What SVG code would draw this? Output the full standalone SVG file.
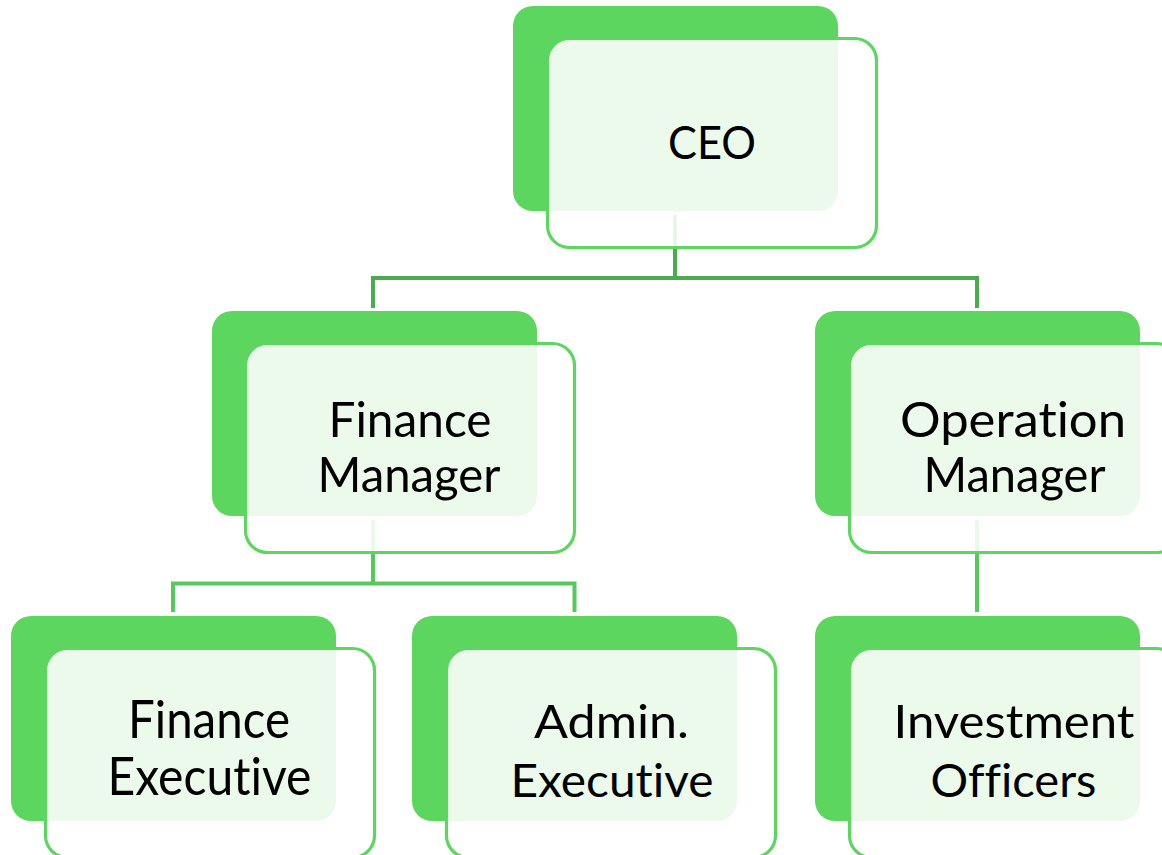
<svg xmlns="http://www.w3.org/2000/svg" width="1162" height="855" viewBox="0 0 1162 855">
  <defs>
    <style>
      .back { fill: #5cd65f; }
      .front { fill: #ffffff; fill-opacity: 0.88; stroke: #5cd65f; stroke-width: 3.2; }
      .link { fill: none; stroke-width: 4; stroke-linejoin: miter; stroke-linecap: butt; }
      .link-top { stroke: #4dab4f; }
      .link-sub { stroke: #57c85a; }
      text { font-variant-ligatures: none; fill: #000; }
      .gill { font-family: Lato, "Open Sans", "Liberation Sans", sans-serif; font-size: 52px; }
      .gill-tight { font-size: 49px; }
      .cal { font-family: Lato, "Open Sans", "Liberation Sans", sans-serif; font-size: 47px; }
    </style>
  </defs>
  <rect width="1162" height="855" fill="#ffffff"/>

  <!-- back panels -->
  <g id="backs">
    <rect class="back" x="513" y="6" width="325" height="205" rx="20"/>
    <rect class="back" x="212" y="311" width="325" height="205" rx="20"/>
    <rect class="back" x="815" y="311" width="325" height="205" rx="20"/>
    <rect class="back" x="11" y="616" width="325" height="205" rx="20"/>
    <rect class="back" x="412" y="616" width="325" height="205" rx="20"/>
    <rect class="back" x="815" y="616" width="325" height="205" rx="20"/>
  </g>

  <!-- connectors -->
  <g id="connectors">
    <polyline class="link link-top" points="675,215 675,278"/>
    <polyline class="link link-top" points="373,308 373,278 977,278 977,308"/>
    <polyline class="link link-sub" points="373,520 373,583.5"/>
    <polyline class="link link-sub" points="173,612 173,583.5 574.5,583.5 574.5,612"/>
    <polyline class="link link-sub" points="977,520 977,612"/>
  </g>

  <g id="ceo">
    <rect class="front" x="547.5" y="38.5" width="329" height="209" rx="22"/>
    <text class="cal" x="712" y="159" text-anchor="middle" textLength="88" lengthAdjust="spacingAndGlyphs">CEO</text>
  </g>

  <g id="finance-manager">
    <rect class="front" x="245.5" y="343.5" width="329" height="209" rx="22"/>
    <text class="gill gill-tight" x="410" y="437" text-anchor="middle" textLength="163" lengthAdjust="spacingAndGlyphs">Finance</text>
    <text class="gill gill-tight" x="409" y="492" text-anchor="middle" textLength="183" lengthAdjust="spacingAndGlyphs">Manager</text>
  </g>

  <g id="operation-manager">
    <rect class="front" x="849.5" y="343.5" width="329" height="209" rx="22"/>
    <text class="gill gill-tight" x="1013" y="437" text-anchor="middle" textLength="226" lengthAdjust="spacingAndGlyphs">Operation</text>
    <text class="gill gill-tight" x="1014.5" y="492" text-anchor="middle" textLength="182" lengthAdjust="spacingAndGlyphs">Manager</text>
  </g>

  <g id="finance-executive">
    <rect class="front" x="45.5" y="648.5" width="329" height="209" rx="22"/>
    <text class="gill" x="209" y="738" text-anchor="middle" textLength="162" lengthAdjust="spacingAndGlyphs">Finance</text>
    <text class="gill" x="209.5" y="795" text-anchor="middle" textLength="204" lengthAdjust="spacingAndGlyphs">Executive</text>
  </g>

  <g id="admin-executive">
    <rect class="front" x="446.5" y="648.5" width="329" height="209" rx="22"/>
    <text class="cal" x="611.5" y="738" text-anchor="middle" textLength="155" lengthAdjust="spacingAndGlyphs">Admin.</text>
    <text class="cal" x="612" y="797" text-anchor="middle" textLength="203" lengthAdjust="spacingAndGlyphs">Executive</text>
  </g>

  <g id="investment-officers">
    <rect class="front" x="849.5" y="648.5" width="329" height="209" rx="22"/>
    <text class="cal" x="1014" y="738" text-anchor="middle" textLength="241" lengthAdjust="spacingAndGlyphs">Investment</text>
    <text class="cal" x="1013.5" y="797" text-anchor="middle" textLength="166" lengthAdjust="spacingAndGlyphs">Officers</text>
  </g>
</svg>
